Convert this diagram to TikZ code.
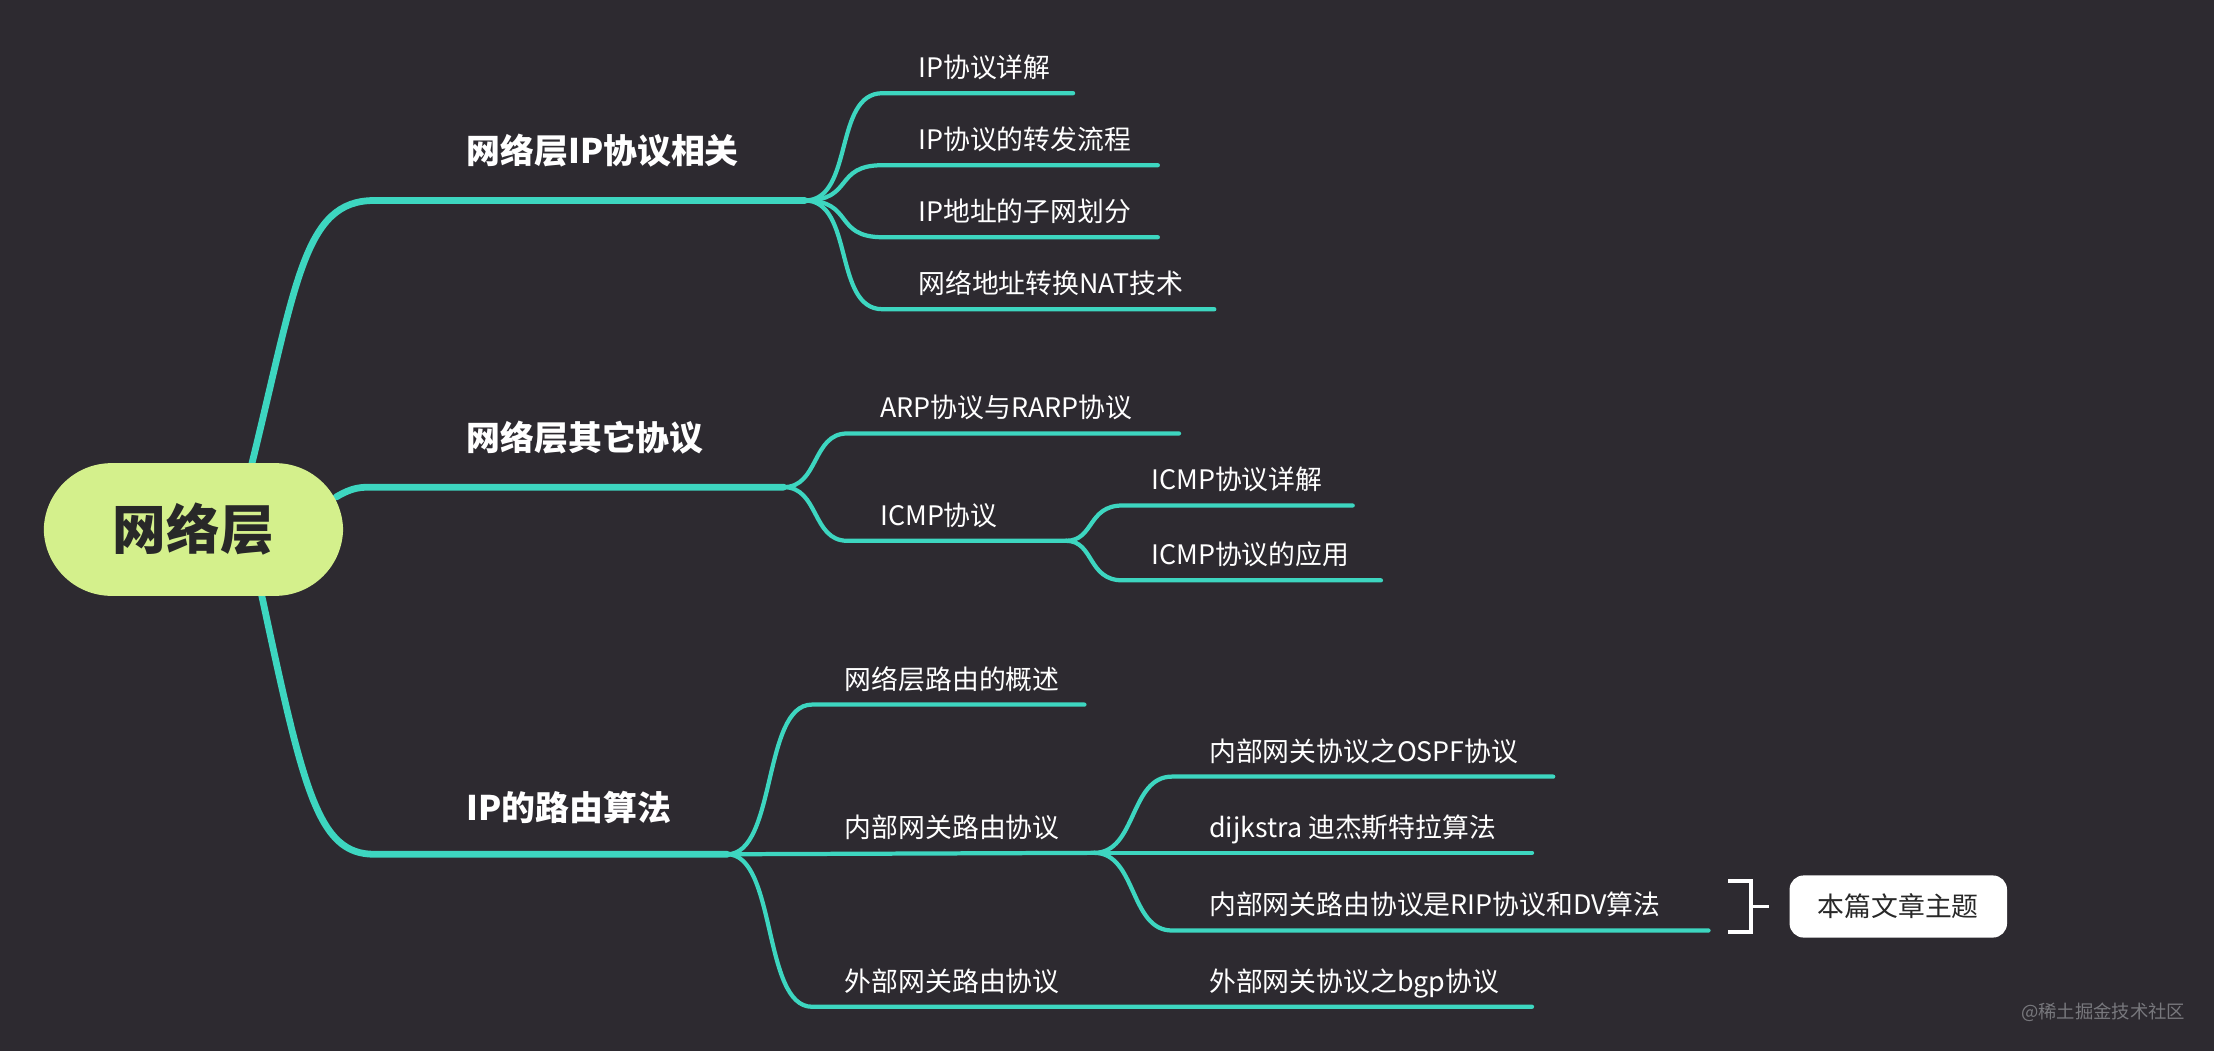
\documentclass[tikz,border=0pt]{standalone}
\usepackage{fontspec}
\setmainfont{Noto Sans CJK SC}
\begin{document}
\begin{tikzpicture}[x=0.5pt,y=-0.5pt,
  br/.style={draw=teal0,line width=2.4pt,line cap=round},
  ln/.style={draw=teal0,line width=1.5pt,line cap=round},
  lf/.style={anchor=base west,text=white,font=\fontsize{9.5}{11}\selectfont,inner sep=0pt},
  bl/.style={anchor=base west,text=white,font=\bfseries\fontsize{12}{14}\selectfont,inner sep=0pt}]
\definecolor{teal0}{HTML}{3DD6C0}
\definecolor{bg}{HTML}{2D2A30}
\fill[bg] (0,0) rectangle (1568,744);
\useasboundingbox (0,0) rectangle (1568,744);
% coordinates
\coordinate (r1) at (178,330); \coordinate (r2) at (238,352); \coordinate (r3) at (185,420);
\coordinate (b1) at (570,142); \coordinate (b2) at (555,345); \coordinate (b3) at (515,605);
% main branches
\draw[br] (r1) .. controls (210,200) and (215,142) .. (265,142) -- (b1);
\draw[br] (r2) .. controls (250,345) and (255,345) .. (265,345) -- (b2);
\draw[br] (r3) .. controls (215,560) and (225,605) .. (265,605) -- (b3);
\node[bl] (t1) at (330,116) {网络层IP协议相关};
\node[bl] (t2) at (330,319) {网络层其它协议};
\node[bl] (t3) at (330,581) {IP的路由算法};
% root
\node[fill={rgb,255:red,212;green,240;blue,140},rounded corners=24pt,minimum width=106pt,minimum height=47pt,font=\bfseries\fontsize{19}{22}\selectfont,text={rgb,255:red,40;green,40;blue,40}] (root) at (137,375) {网络层};
% branch 1 children
\foreach \y/\e/\t/\n in {66/760/IP协议详解/a1,117/820/IP协议的转发流程/a2,168/820/IP地址的子网划分/a3,219/860/网络地址转换NAT技术/a4}{
  \coordinate (\n s) at (625,\y); \coordinate (\n e) at (\e,\y);
  \draw[ln] (b1) .. controls (605,142) and (590,\y) .. (\n s) -- (\n e);
  \node[lf] (\n t) at (650,\y-11) {\t};
}
% branch 2
\coordinate (c1s) at (600,307); \coordinate (c1e) at (835,307);
\draw[ln] (b2) .. controls (580,345) and (575,307) .. (c1s) -- (c1e);
\node[lf] (c1t) at (623,296) {ARP协议与RARP协议};
\coordinate (c2s) at (600,383); \coordinate (c2e) at (755,383);
\draw[ln] (b2) .. controls (580,345) and (575,383) .. (c2s) -- (c2e);
\node[lf] (c2t) at (623,372) {ICMP协议};
\coordinate (d1s) at (795,358); \coordinate (d1e) at (958,358);
\draw[ln] (c2e) .. controls (775,383) and (770,358) .. (d1s) -- (d1e);
\node[lf] (d1t) at (815,347) {ICMP协议详解};
\coordinate (d2s) at (795,411); \coordinate (d2e) at (978,411);
\draw[ln] (c2e) .. controls (775,383) and (770,411) .. (d2s) -- (d2e);
\node[lf] (d2t) at (815,400) {ICMP协议的应用};
% branch 3
\coordinate (e1s) at (575,499); \coordinate (e1e) at (768,499);
\draw[ln] (b3) .. controls (550,605) and (540,499) .. (e1s) -- (e1e);
\node[lf] (e1t) at (598,488) {网络层路由的概述};
\coordinate (e2e) at (775,604);
\draw[ln] (b3) -- (e2e);
\node[lf] (e2t) at (598,593) {内部网关路由协议};
\coordinate (e3s) at (575,713); \coordinate (e3e) at (1085,713);
\draw[ln] (b3) .. controls (550,605) and (540,713) .. (e3s) -- (e3e);
\node[lf] (e3t) at (598,702) {外部网关路由协议};
\node[lf] (e4t) at (856,702) {外部网关协议之bgp协议};
\foreach \y/\e/\t/\n in {550/1100/内部网关协议之OSPF协议/f1,604/1085/dijkstra 迪杰斯特拉算法/f2,659/1210/内部网关路由协议是RIP协议和DV算法/f3}{
  \coordinate (\n s) at (830,\y); \coordinate (\n e) at (\e,\y);
  \draw[ln] (e2e) .. controls (805,604) and (800,\y) .. (\n s) -- (\n e);
  \node[lf] (\n t) at (856,\y-11) {\t};
}
% bracket
\coordinate (k1) at (1224,624); \coordinate (k2) at (1240,624); \coordinate (k3) at (1240,660); \coordinate (k4) at (1224,660);
\coordinate (k5) at (1240,642); \coordinate (k6) at (1253,642);
\draw[white,line width=1.3pt] (k1) -- (k2) -- (k3) -- (k4);
\draw[white,line width=1.3pt] (k5) -- (k6);
\node[fill=white,rounded corners=5pt,minimum width=77pt,minimum height=22pt,font=\fontsize{9.5}{11}\selectfont,text={rgb,255:red,40;green,40;blue,40},anchor=west] (box) at (1267,642) {本篇文章主题};
\node[anchor=base east,text={rgb,255:red,120;green,120;blue,125},font=\fontsize{6.5}{8}\selectfont,inner sep=0pt] (wm) at (1548,721) {@稀土掘金技术社区};
\end{tikzpicture}
\end{document}
